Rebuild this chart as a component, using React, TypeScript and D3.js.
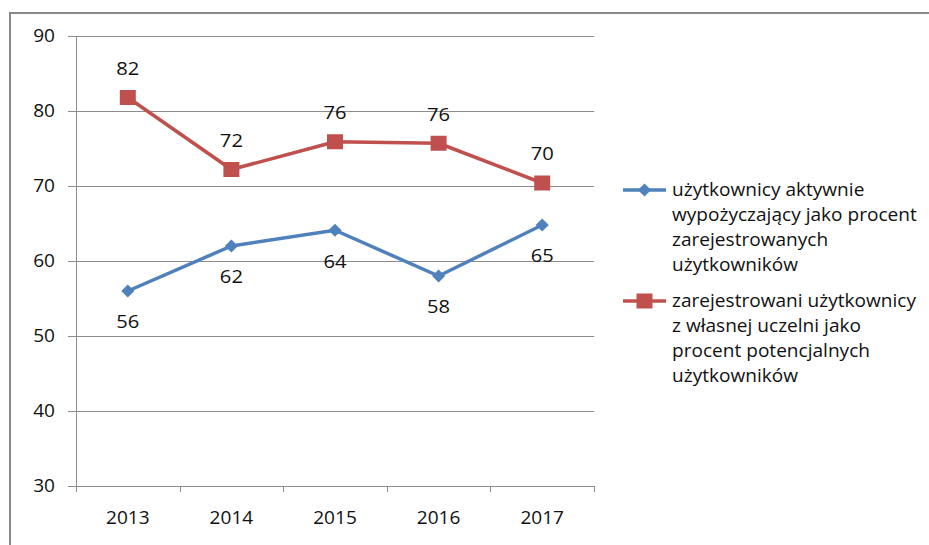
import React from "react";
import * as d3 from "d3";

const years = ["2013", "2014", "2015", "2016", "2017"];
const activeBorrowers = [56.0, 62.0, 64.1, 58.0, 64.8];
const registeredUsers = [81.8, 72.2, 75.9, 75.7, 70.4];
const yTicks = [30, 40, 50, 60, 70, 80, 90];
const legendBlue = ["użytkownicy aktywnie", "wypożyczający jako procent", "zarejestrowanych", "użytkowników"];
const legendRed = ["zarejestrowani użytkownicy", "z własnej uczelni jako", "procent potencjalnych", "użytkowników"];

const BLUE = "#4F81BD";
const RED = "#C0504D";
const GRID = "#8C8C8C";
const FONT = "'Open Sans', sans-serif";
const SX = 1.09;

function T(props: { x: number; y: number; anchor?: "start" | "middle" | "end"; size: number; children: React.ReactNode }) {
  return (
    <text
      transform={`translate(${props.x},${props.y}) scale(${SX},1)`}
      dy="0.35em"
      textAnchor={props.anchor || "start"}
      fontSize={props.size}
      fill="#111"
    >
      {props.children}
    </text>
  );
}

export default function App() {
  const W = 929, H = 545;
  const x = d3.scaleBand<string>().domain(years).range([76, 594]);
  const y = d3.scaleLinear().domain([30, 90]).range([486, 36]);
  const cx = (d: string) => (x(d) as number) + x.bandwidth() / 2;
  const line = d3.line<number>().x((_, i) => cx(years[i])).y((v) => y(v));
  const fmt = d3.format(".0f");
  const fs = 17.5;

  return (
    <svg width={W} height={H} style={{ position: "absolute", left: 0, top: 0, background: "#fff" }} fontFamily={FONT}>
      <rect x={0} y={0} width={W} height={H} fill="#fff" />
      <rect x={10} y={13} width={W + 20} height={H + 20} fill="none" stroke="#898989" strokeWidth={2} />
      {yTicks.map((t) => (
        <g key={t}>
          <line x1={68} x2={594} y1={Math.round(y(t)) + 0.5} y2={Math.round(y(t)) + 0.5} stroke={GRID} strokeWidth={1} />
          <T x={55} y={y(t)} anchor="end" size={fs}>{t}</T>
        </g>
      ))}
      <line x1={76.5} x2={76.5} y1={36} y2={486} stroke={GRID} strokeWidth={1} />
      {[...years.map((d) => x(d) as number), 594].map((v, i) => (
        <line key={i} x1={Math.round(v) + 0.5} x2={Math.round(v) + 0.5} y1={486} y2={492} stroke={GRID} strokeWidth={1} />
      ))}
      {years.map((d) => (
        <T key={d} x={cx(d)} y={518} anchor="middle" size={fs}>{d}</T>
      ))}
      <path d={line(activeBorrowers) || ""} fill="none" stroke={BLUE} strokeWidth={3.5} strokeLinejoin="round" />
      <path d={line(registeredUsers) || ""} fill="none" stroke={RED} strokeWidth={3.5} strokeLinejoin="round" />
      {activeBorrowers.map((v, i) => (
        <g key={"b" + i}>
          <path d={d3.symbol(d3.symbolDiamond2, 110)() || ""} transform={`translate(${cx(years[i])},${y(v)})`} fill={BLUE} />
          <T x={cx(years[i])} y={y(v) + 31} anchor="middle" size={fs + 1}>{fmt(v)}</T>
        </g>
      ))}
      {registeredUsers.map((v, i) => (
        <g key={"r" + i}>
          <rect x={cx(years[i]) - 8} y={y(v) - 7.5} width={16} height={15} fill={RED} />
          <T x={cx(years[i])} y={y(v) - 29} anchor="middle" size={fs + 1}>{fmt(v)}</T>
        </g>
      ))}
      <g>
        <line x1={623} x2={666} y1={190} y2={190} stroke={BLUE} strokeWidth={3.5} />
        <path d={d3.symbol(d3.symbolDiamond2, 110)() || ""} transform="translate(644.5,190)" fill={BLUE} />
        {legendBlue.map((s, i) => (
          <T key={s + i} x={672} y={190 + i * 25} size={fs}>{s}</T>
        ))}
        <line x1={623} x2={666} y1={301} y2={301} stroke={RED} strokeWidth={3.5} />
        <rect x={636.5} y={293.5} width={16} height={15} fill={RED} />
        {legendRed.map((s, i) => (
          <T key={s + i} x={672} y={301 + i * 25} size={fs}>{s}</T>
        ))}
      </g>
    </svg>
  );
}
